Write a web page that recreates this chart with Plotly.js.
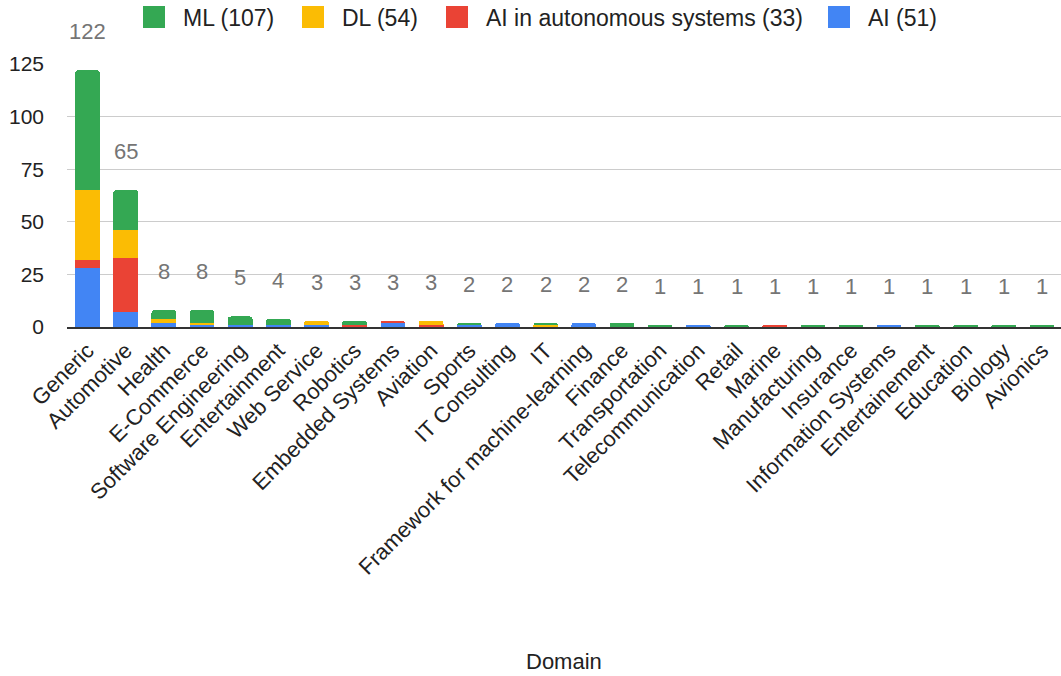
<!DOCTYPE html>
<html>
<head>
<meta charset="utf-8">
<script src="https://cdn.plot.ly/plotly-3.0.1.min.js"></script>
<style>html,body{margin:0;padding:0;background:#fff;}#chart{width:1061px;height:676px;}</style>
</head>
<body>
<div id="chart"></div>
<script>
var categories = ["Generic","Automotive","Health","E-Commerce","Software Engineering","Entertainment","Web Service","Robotics","Embedded Systems","Aviation","Sports","IT Consulting","IT","Framework for machine-learning","Finance","Transportation","Telecommunication","Retail","Marine","Manufacturing","Insurance","Information Systems","Entertainement","Education","Biology","Avionics"];
var aiValues   = [28,7,2,1,1,1,1,0,2,0,1,2,0,2,0,0,1,0,0,0,0,1,0,0,0,0];
var autoValues = [4,26,0,0,0,0,0,1,1,1,0,0,0,0,0,0,0,0,1,0,0,0,0,0,0,0];
var dlValues   = [33,13,2,1,0,0,2,0,0,2,0,0,1,0,0,0,0,0,0,0,0,0,0,0,0,0];
var mlValues   = [57,19,4,6,4,3,0,2,0,0,1,0,1,0,2,1,0,1,0,1,1,0,1,1,1,1];
var totals     = [122,65,8,8,5,4,3,3,3,3,2,2,2,2,2,1,1,1,1,1,1,1,1,1,1,1];
var seriesNames = ["AI (51)","AI in autonomous systems (33)","DL (54)","ML (107)"];
var seriesColors = ["#4285f4","#ea4335","#fbbc04","#34a853"];
var seriesValues = [aiValues, autoValues, dlValues, mlValues];
var FONT = 'Arial, "Liberation Sans", sans-serif';

// plot-area geometry (pixels)
var L = 67, R = 1061, T = 64, B = 327;
function px(x){ return (x - L) / (R - L); }
function py(y){ return (B - y) / (B - T); }

var traces = seriesValues.map(function(v,i){
  return {type:'bar', x:categories, y:v, name:seriesNames[i], marker:{color:seriesColors[i]}, hoverinfo:'none', showlegend:false};
});

var annotations = categories.map(function(c,i){
  return {x:c, y:totals[i], xref:'x', yref:'y', text:String(totals[i]), showarrow:false,
          yanchor:'bottom', yshift:24, font:{size:22, color:'#757575', family:FONT}};
});
annotations.push({x:0.5, y:py(662), xref:'paper', yref:'paper', text:'Domain', showarrow:false,
  xanchor:'center', yanchor:'middle', font:{size:22, color:'#222', family:FONT}});

// manual legend (top), order ML, DL, AI autonomous, AI
var legendX = [143, 302, 446, 828];
var shapes = [];
[3,2,1,0].forEach(function(si, k){
  var x0 = legendX[k];
  shapes.push({type:'rect', xref:'paper', yref:'paper', x0:px(x0), x1:px(x0+22), y0:py(28), y1:py(6),
               fillcolor:seriesColors[si], line:{width:0}});
  annotations.push({x:px(x0+38), y:py(18), xref:'paper', yref:'paper', text:seriesNames[si], showarrow:false,
               xanchor:'left', yanchor:'middle', font:{size:23, color:'#222', family:FONT}});
});

var layout = {
  width:1061, height:676,
  margin:{l:L, r:1061-R, t:T, b:676-B},
  barmode:'stack', bargap:0.35, barcornerradius:3,
  font:{family:FONT, size:21, color:'#222'},
  paper_bgcolor:'#fff', plot_bgcolor:'#fff',
  showlegend:false,
  xaxis:{type:'category', tickangle:-45, showgrid:false, showline:true, linecolor:'#333', linewidth:2,
         ticks:'', tickfont:{size:22, color:'#222'}, automargin:false, fixedrange:true},
  yaxis:{range:[0,125], tickvals:[0,25,50,75,100,125], showgrid:true, gridcolor:'#cccccc', gridwidth:1,
         zeroline:false, showline:false, ticks:'', tickfont:{size:21, color:'#222'}, ticklabelstandoff:22,
         automargin:false, fixedrange:true},
  shapes:shapes,
  annotations:annotations
};
Plotly.newPlot('chart', traces, layout, {displayModeBar:false, staticPlot:true});
</script>
</body>
</html>
